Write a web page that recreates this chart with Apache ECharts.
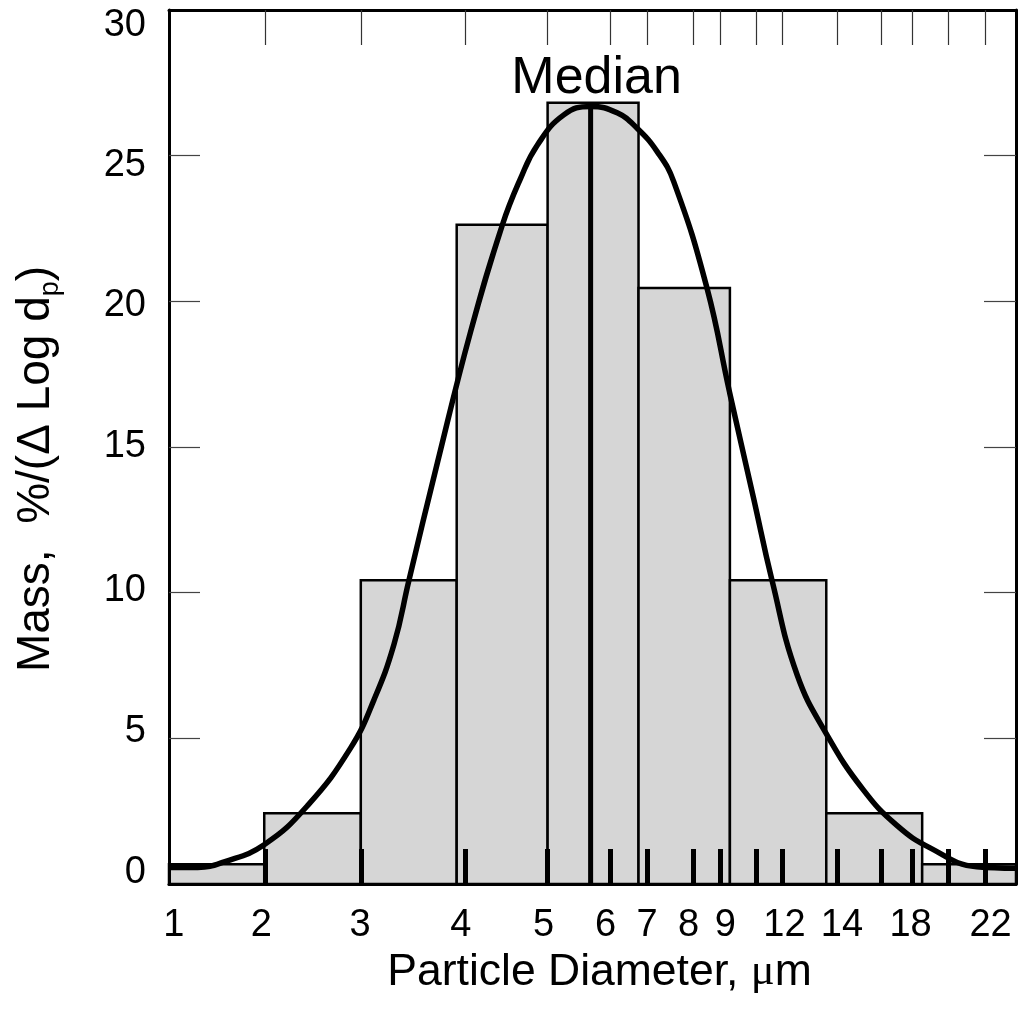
<!DOCTYPE html>
<html>
<head>
<meta charset="utf-8">
<script src="https://cdn.jsdelivr.net/npm/echarts@6/dist/echarts.min.js"></script>
<style>
  html, body { margin: 0; padding: 0; background: #fff; }
  #chart { width: 1019px; height: 1011px; }
</style>
</head>
<body>
<div id="chart"></div>
<script>
// x axis is in "bin units": each size bin is about one unit wide on the drawn scale
const binEdges = [0, 1.012, 2.038, 3.057, 4.023, 4.989, 5.960, 6.984, 8.003, 9.0];
const binValues = [0.68, 2.43, 10.43, 22.63, 26.82, 20.46, 10.43, 2.43, 0.68];

// fitted curve
const curveX = [0.000, 0.305, 0.587, 1.011, 1.472, 1.932, 2.179, 2.391, 2.550, 2.852, 3.205,
  3.542, 3.736, 3.913, 4.195, 4.479, 4.762, 4.974, 5.187, 5.363, 5.717, 5.957, 6.212,
  6.407, 6.673, 6.991, 7.380, 7.734, 8.087, 8.583, 8.990];
const curveY = [0.57, 0.57, 0.76, 1.35, 2.69, 4.68, 6.33, 8.23, 10.43, 14.46, 18.96,
  22.62, 24.22, 25.36, 26.40, 26.69, 26.47, 25.94, 25.14, 24.11, 20.45, 16.87, 13.24,
  10.43, 7.19, 5.12, 3.22, 2.01, 1.24, 0.59, 0.54];

const medianPos = 4.48;
const medianTop = 26.6;

// diameter ticks (2,3,4,5,6,7,8,9,10,12,14,16,18,20,22 um) and where the labels sit
const tickPos = [1.019, 2.048, 3.152, 4.023, 4.691, 5.084, 5.572, 5.859, 6.241, 6.517, 7.100, 7.567, 7.896, 8.278, 8.671];
const labelPos = [0.05, 0.98, 2.03, 3.10, 3.98, 4.64, 5.08, 5.52, 5.91, 6.54, 7.15, 7.88, 8.73];
const labelText = ['1', '2', '3', '4', '5', '6', '7', '8', '9', '12', '14', '18', '22'];

const yTickPos = [5, 10, 15, 20, 25];
const yLabelPos = [0.39, 5.23, 10.07, 15.01, 19.85, 24.66, 29.47];
const yLabelText = ['0', '5', '10', '15', '20', '25', '30'];

const FONT = "'Liberation Sans', Arial, sans-serif";

const chart = echarts.init(document.getElementById('chart'));

const option = {
  animation: false,
  backgroundColor: '#ffffff',
  grid: { left: 168, right: 3, top: 10, bottom: 127 },
  xAxis: [{
    type: 'value',
    min: 0,
    max: 9,
    position: 'bottom',
    z: 5,
    axisLine: { show: true, onZero: false, lineStyle: { color: '#000', width: 3 } },
    axisTick: { show: true, inside: true, length: 35, customValues: tickPos, lineStyle: { color: '#000', width: 5 } },
    axisLabel: {
      show: true,
      customValues: labelPos,
      margin: 23,
      fontSize: 38,
      fontFamily: FONT,
      color: '#000',
      formatter: function (v) { return labelText[labelPos.indexOf(v)]; }
    },
    splitLine: { show: false },
    name: 'Particle Diameter, {mu|μ}m',
    nameLocation: 'middle',
    nameGap: 66,
    nameTextStyle: {
      fontSize: 44.5,
      fontFamily: FONT,
      color: '#000',
      padding: [0, 0, 0, 14],
      rich: { mu: { fontSize: 44.5, fontFamily: "'Liberation Serif', serif", color: '#000' } }
    }
  }, {
    type: 'value',
    min: 0,
    max: 9,
    position: 'top',
    z: 5,
    axisLine: { show: true, onZero: false, lineStyle: { color: '#000', width: 3 } },
    axisTick: { show: true, inside: true, length: 35, customValues: tickPos, lineStyle: { color: '#333', width: 1.2 } },
    axisLabel: { show: false },
    splitLine: { show: false }
  }],
  yAxis: [{
    type: 'value',
    min: 0,
    max: 30,
    position: 'left',
    z: 5,
    axisLine: { show: true, onZero: false, lineStyle: { color: '#000', width: 3 } },
    axisTick: { show: true, inside: true, length: 31, customValues: yTickPos, lineStyle: { color: '#444', width: 1.2 } },
    axisLabel: {
      show: true,
      customValues: yLabelPos,
      margin: 23,
      fontSize: 38,
      fontFamily: FONT,
      color: '#000',
      formatter: function (v) { return yLabelText[yLabelPos.indexOf(v)]; }
    },
    splitLine: { show: false },
    name: 'Mass,  %/(Δ Log d{sub|p})',
    nameLocation: 'middle',
    nameGap: 105,
    nameRotate: 90,
    nameTextStyle: {
      fontSize: 46,
      fontFamily: FONT,
      color: '#000',
      lineHeight: 56,
      padding: [0, 44, 0, 0],
      rich: { sub: { fontSize: 27, lineHeight: 28, verticalAlign: 'bottom', fontFamily: FONT, color: '#000' } }
    }
  }, {
    type: 'value',
    min: 0,
    max: 30,
    position: 'right',
    z: 5,
    axisLine: { show: true, onZero: false, lineStyle: { color: '#000', width: 3 } },
    axisTick: { show: true, inside: true, length: 32, customValues: yTickPos, lineStyle: { color: '#444', width: 1.2 } },
    axisLabel: { show: false },
    splitLine: { show: false }
  }],
  series: [{
    type: 'custom',
    name: 'bins',
    xAxisIndex: 0,
    yAxisIndex: 0,
    z: 2,
    encode: { x: [0, 1], y: 2 },
    data: binValues.map(function (v, i) { return [binEdges[i], binEdges[i + 1], v]; }),
    renderItem: function (params, api) {
      const p0 = api.coord([api.value(0), api.value(2)]);
      const p1 = api.coord([api.value(1), 0]);
      return {
        type: 'rect',
        shape: { x: p0[0], y: p0[1], width: p1[0] - p0[0], height: p1[1] - p0[1] },
        style: { fill: '#d6d6d6', stroke: '#000', lineWidth: 2.5 }
      };
    }
  }, {
    type: 'line',
    name: 'curve',
    z: 4,
    smooth: 0.45,
    symbol: 'none',
    lineStyle: { color: '#000', width: 5.5 },
    data: curveX.map(function (x, i) { return [x, curveY[i]]; })
  }, {
    type: 'line',
    name: 'median',
    z: 4,
    symbol: 'circle',
    symbolSize: 0,
    lineStyle: { color: '#000', width: 5 },
    data: [
      { value: [medianPos, 0] },
      {
        value: [medianPos, medianTop],
        label: {
          show: true,
          position: 'top',
          distance: 4,
          offset: [6, 0],
          formatter: 'Median',
          fontSize: 52,
          fontFamily: FONT,
          color: '#000'
        }
      }
    ]
  }]
};

chart.setOption(option);
</script>
</body>
</html>
